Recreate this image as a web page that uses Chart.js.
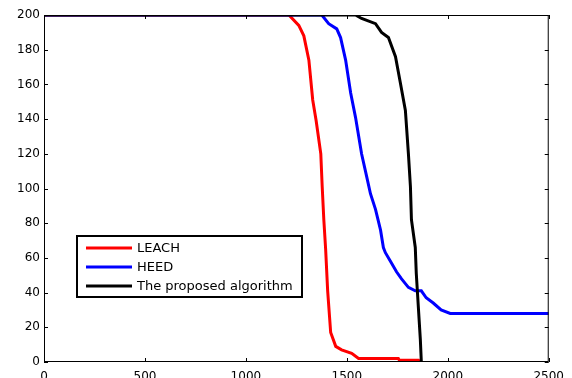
<!DOCTYPE html>
<html>
<head>
<meta charset="utf-8">
<script src="https://cdn.jsdelivr.net/npm/chart.js@4"></script>
<style>
  html, body { margin: 0; padding: 0; background: #fff; }
  #wrap { width: 572px; height: 378px; }
</style>
</head>
<body>
<div id="wrap"><canvas id="aliveChart"></canvas></div>
<script>
// series (round vs. alive nodes)
const leachX = [0, 1213, 1262, 1287, 1312, 1331, 1348, 1371, 1378, 1386, 1395, 1405, 1420, 1445, 1474, 1524, 1558, 1755, 1760, 1855, 1860];
const leachY = [200, 200, 194, 188, 174, 151, 139, 120, 101, 82, 65, 41, 17, 9, 7, 5, 2, 2, 1, 1, 0];
const heedX = [0, 1376, 1410, 1450, 1469, 1494, 1519, 1543, 1573, 1598, 1617, 1642, 1667, 1681, 1691, 1721, 1746, 1770, 1805, 1839, 1869, 1893, 1928, 1967, 2012, 2500];
const heedY = [200, 200, 195, 192, 187, 174, 155, 141, 120, 107, 97, 88, 76, 66, 63, 57, 52, 48, 43, 41, 41, 37, 34, 30, 28, 28];
const propX = [0, 1543, 1573, 1642, 1672, 1706, 1741, 1765, 1790, 1805, 1815, 1820, 1839, 1844, 1854, 1864, 1869];
const propY = [200, 200, 198, 195, 190, 187, 176, 161, 145, 120, 101, 82, 66, 51, 32, 13, 0];
const seriesNames = ['LEACH', 'HEED', 'The proposed algorithm'];
const seriesColors = ['#ff0000', '#0000ff', '#000000'];
const xTicks = [0, 500, 1000, 1500, 2000, 2500];
const yTicks = [0, 20, 40, 60, 80, 100, 120, 140, 160, 180, 200];

function pts(xs, ys) {
  return xs.map(function(x, i) { return { x: x, y: ys[i] }; });
}

// frame, inward ticks and boxed legend, matlab style
const matlabLook = {
  id: 'matlabLook',
  afterDatasetsDraw: function(chart) {
    const ctx = chart.ctx;
    const a = chart.chartArea;
    const xs = chart.scales.x, ys = chart.scales.y;
    ctx.save();
    ctx.strokeStyle = '#000';
    ctx.lineWidth = 1;
    ctx.strokeRect(a.left + 0.5, a.top + 0.5, a.right - a.left - 1, a.bottom - a.top - 1);
    ctx.beginPath();
    xTicks.forEach(function(v) {
      const p = Math.round(xs.getPixelForValue(v)) + 0.5;
      ctx.moveTo(p, a.bottom); ctx.lineTo(p, a.bottom - 4);
      ctx.moveTo(p, a.top); ctx.lineTo(p, a.top + 4);
    });
    yTicks.forEach(function(v) {
      const p = Math.round(ys.getPixelForValue(v)) + 0.5;
      ctx.moveTo(a.left, p); ctx.lineTo(a.left + 4, p);
      ctx.moveTo(a.right, p); ctx.lineTo(a.right - 4, p);
    });
    ctx.stroke();

    // legend box
    const bx = 77, by = 236, bw = 225, bh = 61;
    ctx.fillStyle = '#fff';
    ctx.fillRect(bx, by, bw, bh);
    ctx.lineWidth = 2;
    ctx.strokeRect(bx, by, bw, bh);
    ctx.font = '13px "DejaVu Sans"';
    ctx.textBaseline = 'middle';
    chart.data.datasets.forEach(function(ds, i) {
      const ry = by + 12 + i * 19;
      ctx.strokeStyle = ds.borderColor;
      ctx.lineWidth = 3;
      ctx.beginPath();
      ctx.moveTo(bx + 9, ry); ctx.lineTo(bx + 55, ry);
      ctx.stroke();
      ctx.fillStyle = '#000';
      ctx.fillText(ds.label, bx + 60, ry + 1);
    });
    ctx.restore();
  }
};

const config = {
  type: 'line',
  data: {
    datasets: [
      { label: seriesNames[0], data: pts(leachX, leachY), borderColor: seriesColors[0], order: 3 },
      { label: seriesNames[1], data: pts(heedX, heedY), borderColor: seriesColors[1], order: 2 },
      { label: seriesNames[2], data: pts(propX, propY), borderColor: seriesColors[2], order: 1 }
    ]
  },
  options: {
    responsive: true,
    maintainAspectRatio: false,
    animation: false,
    layout: { padding: { top: 15, right: 21, left: 0, bottom: 0 } },
    elements: {
      line: { borderWidth: 3, tension: 0 },
      point: { radius: 0 }
    },
    plugins: {
      legend: { display: false },
      tooltip: { enabled: false }
    },
    scales: {
      x: {
        type: 'linear',
        min: 0, max: 2500,
        afterBuildTicks: function(s) { s.ticks = xTicks.map(function(v) { return { value: v }; }); },
        afterFit: function(s) { s.height = 16; },
        grid: { display: false, drawTicks: false },
        border: { display: false },
        ticks: {
          padding: 8, color: '#000', font: { family: 'DejaVu Sans', size: 12 },
          callback: function(v) { return String(v); }
        }
      },
      y: {
        min: 0, max: 200,
        afterBuildTicks: function(s) { s.ticks = yTicks.map(function(v) { return { value: v }; }); },
        afterFit: function(s) { s.width = 44; },
        grid: { display: false, drawTicks: false },
        border: { display: false },
        ticks: { padding: 4, color: '#000', font: { family: 'DejaVu Sans', size: 12 } }
      }
    }
  },
  plugins: [matlabLook]
};

var ctx = document.getElementById('aliveChart');
var myChart = new Chart(ctx, config);
</script>
</body>
</html>
